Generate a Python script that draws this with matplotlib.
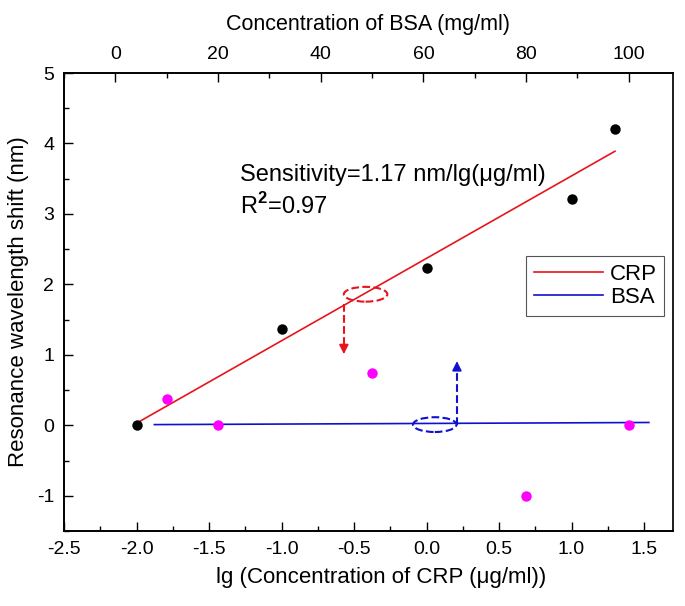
import matplotlib
matplotlib.use('Agg')
import matplotlib.pyplot as plt
from matplotlib.patches import Ellipse
from matplotlib.ticker import MultipleLocator, FormatStrFormatter

plt.rcParams['font.family'] = ['Liberation Sans', 'DejaVu Sans']
plt.rcParams['mathtext.fontset'] = 'custom'
plt.rcParams['mathtext.rm'] = 'Liberation Sans'
plt.rcParams['mathtext.bf'] = 'Liberation Sans:bold'
plt.rcParams['axes.unicode_minus'] = False

# CRP: lg(concentration, ug/ml) vs shift (nm)
crp_lg = [-2.0, -1.0, 0.0, 1.0, 1.3]
crp_shift = [0.0, 1.37, 2.23, 3.21, 4.20]
crp_fit_x = [-2.0, 1.3]
crp_fit_y = [0.03, 3.89]

# BSA: concentration (mg/ml) vs shift (nm)
bsa_conc = [10, 20, 50, 80, 100]
bsa_shift = [0.38, 0.0, 0.74, -1.0, 0.0]
bsa_fit_x = [7.6, 103.9]
bsa_fit_y = [0.01, 0.04]

fig = plt.figure(figsize=(6.85, 6.06), dpi=100)
ax = fig.add_axes([64 / 685, 75 / 606, 609 / 685, 458 / 606])
ax2 = ax.twiny()

ax.set_xlim(-2.5, 1.7)
ax.set_ylim(-1.5, 5)
ax2.set_xlim(-10, 108.6)

red = '#e8141c'
blue = '#1010d0'

ax.plot(crp_fit_x, crp_fit_y, color=red, lw=1.2, label='CRP', zorder=2)
ax.plot([], [], color=blue, lw=1.2, label='BSA')
ax.plot(crp_lg, crp_shift, 'o', color='black', ms=7.5, mec='none', zorder=3)
ax2.plot(bsa_fit_x, bsa_fit_y, color=blue, lw=1.2, zorder=2)
ax2.plot(bsa_conc, bsa_shift, 'o', color='#ff00ff', ms=7.5, mec='none', zorder=3)

# dashed ellipses and arrows pointing to the matching axis
ax.add_patch(Ellipse((-0.42, 1.86), 0.30, 0.21, fill=False, ec=red, ls='--', lw=1.5))
ax.plot([-0.57, -0.57], [1.72, 1.12], color=red, ls='--', lw=1.5)
ax.annotate('', xy=(-0.57, 0.97), xytext=(-0.57, 1.14),
            arrowprops=dict(arrowstyle='-|>', color=red, lw=1.2, mutation_scale=14))
ax.add_patch(Ellipse((0.057, 0.01), 0.30, 0.21, fill=False, ec=blue, ls='--', lw=1.5))
ax.plot([0.21, 0.21], [0.01, 0.80], color=blue, ls='--', lw=1.5)
ax.annotate('', xy=(0.21, 0.95), xytext=(0.21, 0.78),
            arrowprops=dict(arrowstyle='-|>', color=blue, lw=1.2, mutation_scale=14))

ax.text(-1.283, 3.55, 'Sensitivity=1.17 nm/lg(\u03bcg/ml)', fontsize=17, va='center')
ax.text(-1.283, 3.12, 'R$^\\mathbf{2}$=0.97', fontsize=17, va='center')

ax.set_xlabel('lg (Concentration of CRP (\u03bcg/ml))', fontsize=16)
ax.xaxis.set_label_coords(0.52, -0.078)
ax.set_ylabel('Resonance wavelength shift (nm)', fontsize=16, labelpad=6)
ax2.set_xlabel('Concentration of BSA (mg/ml)', fontsize=15.5, labelpad=12)

ax.xaxis.set_major_locator(MultipleLocator(0.5))
ax.xaxis.set_minor_locator(MultipleLocator(0.25))
ax.yaxis.set_major_locator(MultipleLocator(1))
ax.yaxis.set_minor_locator(MultipleLocator(0.5))
ax2.xaxis.set_major_locator(MultipleLocator(20))
ax2.xaxis.set_minor_locator(MultipleLocator(10))
ax.xaxis.set_major_formatter(FormatStrFormatter('%.1f'))

for a in (ax, ax2):
    a.tick_params(which='major', direction='in', length=6.5, width=1.0, labelsize=14, pad=7)
    a.tick_params(which='minor', direction='in', length=3.6, width=1.0)
    for s in a.spines.values():
        s.set_linewidth(1.2)
ax.tick_params(which='both', top=False, right=False)
ax.spines['right'].set_color('#c8c8c8')

leg = ax.legend(loc='upper right', bbox_to_anchor=(0.986, 0.600), borderaxespad=0,
                fontsize=16, handlelength=3.1, handletextpad=0.3, labelspacing=0.1,
                borderpad=0.35, fancybox=False, framealpha=1, edgecolor='#555555')
leg.get_frame().set_linewidth(0.8)

fig.savefig('out.png', dpi=100)
